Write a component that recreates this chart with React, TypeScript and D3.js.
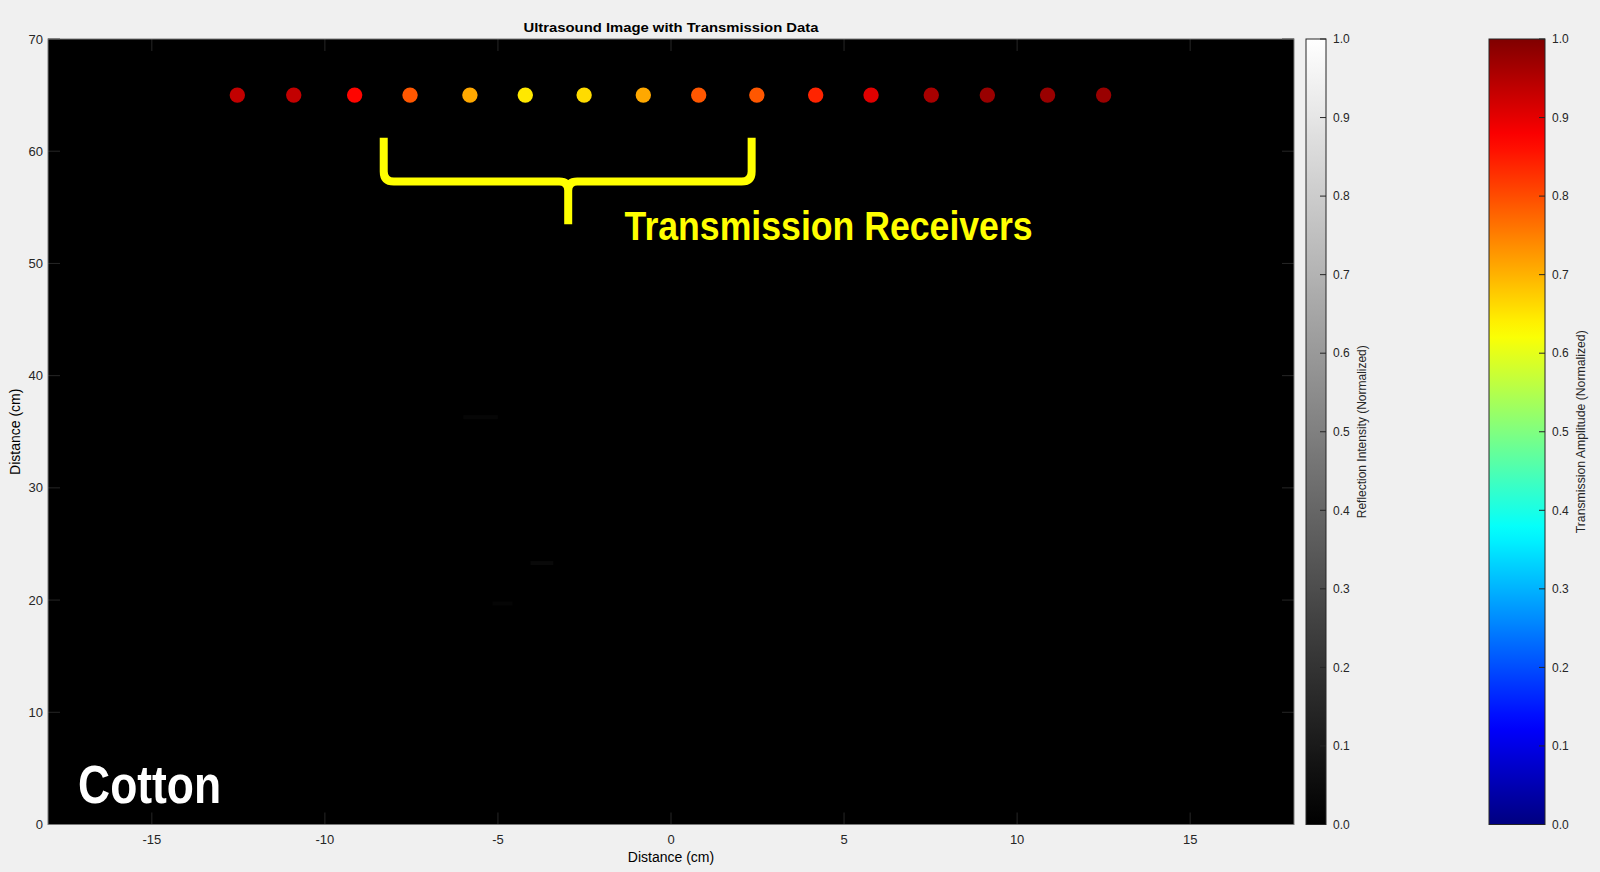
import React, { useEffect, useRef } from 'react';
import * as d3 from 'd3';

// Receiver positions (cm) and their normalized transmission amplitude
const receiverX = [-12.53, -10.9, -9.14, -7.54, -5.81, -4.21, -2.51, -0.8, 0.8, 2.48, 4.18, 5.78, 7.52, 9.14, 10.88, 12.5];
const receiverAmp = [0.935, 0.935, 0.87, 0.79, 0.71, 0.648, 0.66, 0.71, 0.79, 0.79, 0.84, 0.905, 0.96, 0.975, 0.975, 0.975];
const receiverDepth = 65;

// Faint reflection patches in the (mostly black) ultrasound image
const reflX0 = [-6.0, -4.06, -5.16];
const reflX1 = [-5.0, -3.4, -4.58];
const reflY = [36.3, 23.3, 19.7];
const reflV = [0.025, 0.035, 0.02];

const xTicks = [-15, -10, -5, 0, 5, 10, 15];
const yTicks = [0, 10, 20, 30, 40, 50, 60, 70];
const cbTicks = [0, 0.1, 0.2, 0.3, 0.4, 0.5, 0.6, 0.7, 0.8, 0.9, 1.0];

const W = 1600;
const H = 872;
const TXT = '#262626';
const FONT = '"Liberation Sans", Arial, sans-serif';

// MATLAB-style jet colormap
const jet = (t: number) => {
  const c = (v: number) => Math.max(0, Math.min(1, v)) * 255;
  return d3.rgb(c(1.5 - Math.abs(4 * t - 3)), c(1.5 - Math.abs(4 * t - 2)), c(1.5 - Math.abs(4 * t - 1))).formatHex();
};

const App: React.FC = () => {
  const ref = useRef<SVGSVGElement | null>(null);

  useEffect(() => {
    const svg = d3.select(ref.current);
    svg.selectAll('*').remove();

    const plot = { left: 48, right: 1294, top: 39, bottom: 824.5 };
    const x = d3.scaleLinear().domain([-18, 18]).range([plot.left, plot.right]);
    const y = d3.scaleLinear().domain([0, 70]).range([plot.bottom, plot.top]);
    const cb = d3.scaleLinear().domain([0, 1]).range([plot.bottom, plot.top]);

    svg.append('rect').attr('width', W).attr('height', H).attr('fill', '#f0f0f0');

    // Title
    svg.append('text')
      .attr('x', (plot.left + plot.right) / 2).attr('y', 31.5)
      .attr('text-anchor', 'middle').attr('font-weight', 'bold').attr('font-size', 13.5)
      .attr('textLength', 295).attr('lengthAdjust', 'spacingAndGlyphs')
      .attr('fill', '#000').text('Ultrasound Image with Transmission Data');

    // Image area
    svg.append('rect')
      .attr('x', plot.left).attr('y', plot.top)
      .attr('width', plot.right - plot.left).attr('height', plot.bottom - plot.top)
      .attr('fill', '#000');

    const gray = d3.scaleLinear<string>().domain([0, 1]).range(['#000', '#fff']);
    svg.append('g').selectAll('rect')
      .data(reflV.map((v, i) => ({ x0: reflX0[i], x1: reflX1[i], y: reflY[i], v })))
      .enter().append('rect')
      .attr('x', d => x(d.x0)).attr('width', d => x(d.x1) - x(d.x0))
      .attr('y', d => y(d.y) - 2).attr('height', 4)
      .attr('fill', d => gray(d.v));

    // Inner ticks (MATLAB style)
    const tk = svg.append('g').attr('stroke', TXT).attr('stroke-width', 1);
    xTicks.forEach(t => {
      tk.append('line').attr('x1', x(t)).attr('x2', x(t)).attr('y1', plot.bottom).attr('y2', plot.bottom - 12);
      tk.append('line').attr('x1', x(t)).attr('x2', x(t)).attr('y1', plot.top).attr('y2', plot.top + 12);
    });
    yTicks.forEach(t => {
      tk.append('line').attr('x1', plot.left).attr('x2', plot.left + 12).attr('y1', y(t)).attr('y2', y(t));
      tk.append('line').attr('x1', plot.right).attr('x2', plot.right - 12).attr('y1', y(t)).attr('y2', y(t));
    });

    svg.append('rect')
      .attr('x', plot.left).attr('y', plot.top)
      .attr('width', plot.right - plot.left).attr('height', plot.bottom - plot.top)
      .attr('fill', 'none').attr('stroke', '#7a7a7a').attr('stroke-width', 1);

    // Tick labels
    svg.append('g').selectAll('text').data(xTicks).enter().append('text')
      .attr('x', d => x(d)).attr('y', 844).attr('text-anchor', 'middle')
      .attr('font-size', 13).attr('fill', TXT).text(d => String(d));
    svg.append('g').selectAll('text').data(yTicks).enter().append('text')
      .attr('x', 43).attr('y', d => y(d)).attr('dy', '0.35em').attr('text-anchor', 'end')
      .attr('font-size', 13).attr('fill', TXT).text(d => d);

    svg.append('text').attr('x', (plot.left + plot.right) / 2).attr('y', 862)
      .attr('text-anchor', 'middle').attr('font-size', 14).attr('fill', '#000').text('Distance (cm)');
    svg.append('text')
      .attr('transform', `translate(20,${(plot.top + plot.bottom) / 2}) rotate(-90)`)
      .attr('text-anchor', 'middle').attr('font-size', 14).attr('fill', '#000').text('Distance (cm)');

    // Receivers
    svg.append('g').selectAll('circle')
      .data(receiverX.map((rx, i) => ({ rx, a: receiverAmp[i] })))
      .enter().append('circle')
      .attr('cx', d => x(d.rx)).attr('cy', y(receiverDepth)).attr('r', 7.7)
      .attr('fill', d => jet(d.a));

    // Brace annotation (data coordinates)
    const bL = x(-8.3), bR = x(2.33), bS = x(-2.97);
    const bTop = y(61.2), bH = y(57.3), bBot = y(53.5);
    const r = 10, r2 = 9;
    const brace = d3.path();
    brace.moveTo(bL, bTop);
    brace.lineTo(bL, bH - r);
    brace.quadraticCurveTo(bL, bH, bL + r, bH);
    brace.lineTo(bS - r2, bH);
    brace.quadraticCurveTo(bS, bH, bS, bH + r2);
    brace.lineTo(bS, bBot);
    brace.moveTo(bS, bH + r2);
    brace.quadraticCurveTo(bS, bH, bS + r2, bH);
    brace.lineTo(bR - r, bH);
    brace.quadraticCurveTo(bR, bH, bR, bH - r);
    brace.lineTo(bR, bTop);
    svg.append('path').attr('d', brace.toString())
      .attr('fill', 'none').attr('stroke', '#ffff00').attr('stroke-width', 8)
      .attr('stroke-linejoin', 'round');

    svg.append('text').attr('x', x(-1.34)).attr('y', y(52.1))
      .attr('font-weight', 'bold').attr('font-size', 40).attr('fill', '#ffff00')
      .attr('textLength', 408).attr('lengthAdjust', 'spacingAndGlyphs')
      .text('Transmission Receivers');

    svg.append('text').attr('x', x(-17.13)).attr('y', y(1.92))
      .attr('font-weight', 'bold').attr('font-size', 53).attr('fill', '#fff')
      .attr('textLength', 143).attr('lengthAdjust', 'spacingAndGlyphs')
      .text('Cotton');

    // Colorbars
    const defs = svg.append('defs');
    const addGrad = (id: string, f: (t: number) => string) => {
      const g = defs.append('linearGradient').attr('id', id)
        .attr('x1', 0).attr('y1', 1).attr('x2', 0).attr('y2', 0);
      d3.range(0, 1.0001, 0.02).forEach(t => {
        g.append('stop').attr('offset', t).attr('stop-color', f(t));
      });
    };
    addGrad('grayGrad', t => gray(t));
    addGrad('jetGrad', jet);

    const drawBar = (x0: number, x1: number, grad: string, label: string, labelX: number, labelLen: number) => {
      const g = svg.append('g');
      g.append('rect').attr('x', x0).attr('y', plot.top)
        .attr('width', x1 - x0).attr('height', plot.bottom - plot.top)
        .attr('fill', `url(#${grad})`).attr('stroke', TXT).attr('stroke-width', 1);
      cbTicks.forEach(t => {
        g.append('line').attr('x1', x1).attr('x2', x1 - 6).attr('y1', cb(t)).attr('y2', cb(t))
          .attr('stroke', TXT);
      });
      g.selectAll('text.tick').data(cbTicks).enter().append('text')
        .attr('x', x1 + 7).attr('y', d => cb(d)).attr('dy', '0.35em')
        .attr('font-size', 12).attr('fill', TXT).text(d => d3.format('.1f')(d));
      g.append('text')
        .attr('transform', `translate(${labelX},${(plot.top + plot.bottom) / 2}) rotate(-90)`)
        .attr('text-anchor', 'middle').attr('dy', '0.35em').attr('font-size', 12).attr('fill', TXT)
        .attr('textLength', labelLen).attr('lengthAdjust', 'spacingAndGlyphs')
        .text(label);
    };
    drawBar(1306, 1326, 'grayGrad', 'Reflection Intensity (Normalized)', 1362, 173);
    drawBar(1489, 1545, 'jetGrad', 'Transmission Amplitude (Normalized)', 1581, 203);
  }, []);

  return (
    <svg
      ref={ref}
      width={W}
      height={H}
      style={{ position: 'absolute', left: 0, top: 0, fontFamily: FONT }}
    />
  );
};

export default App;
